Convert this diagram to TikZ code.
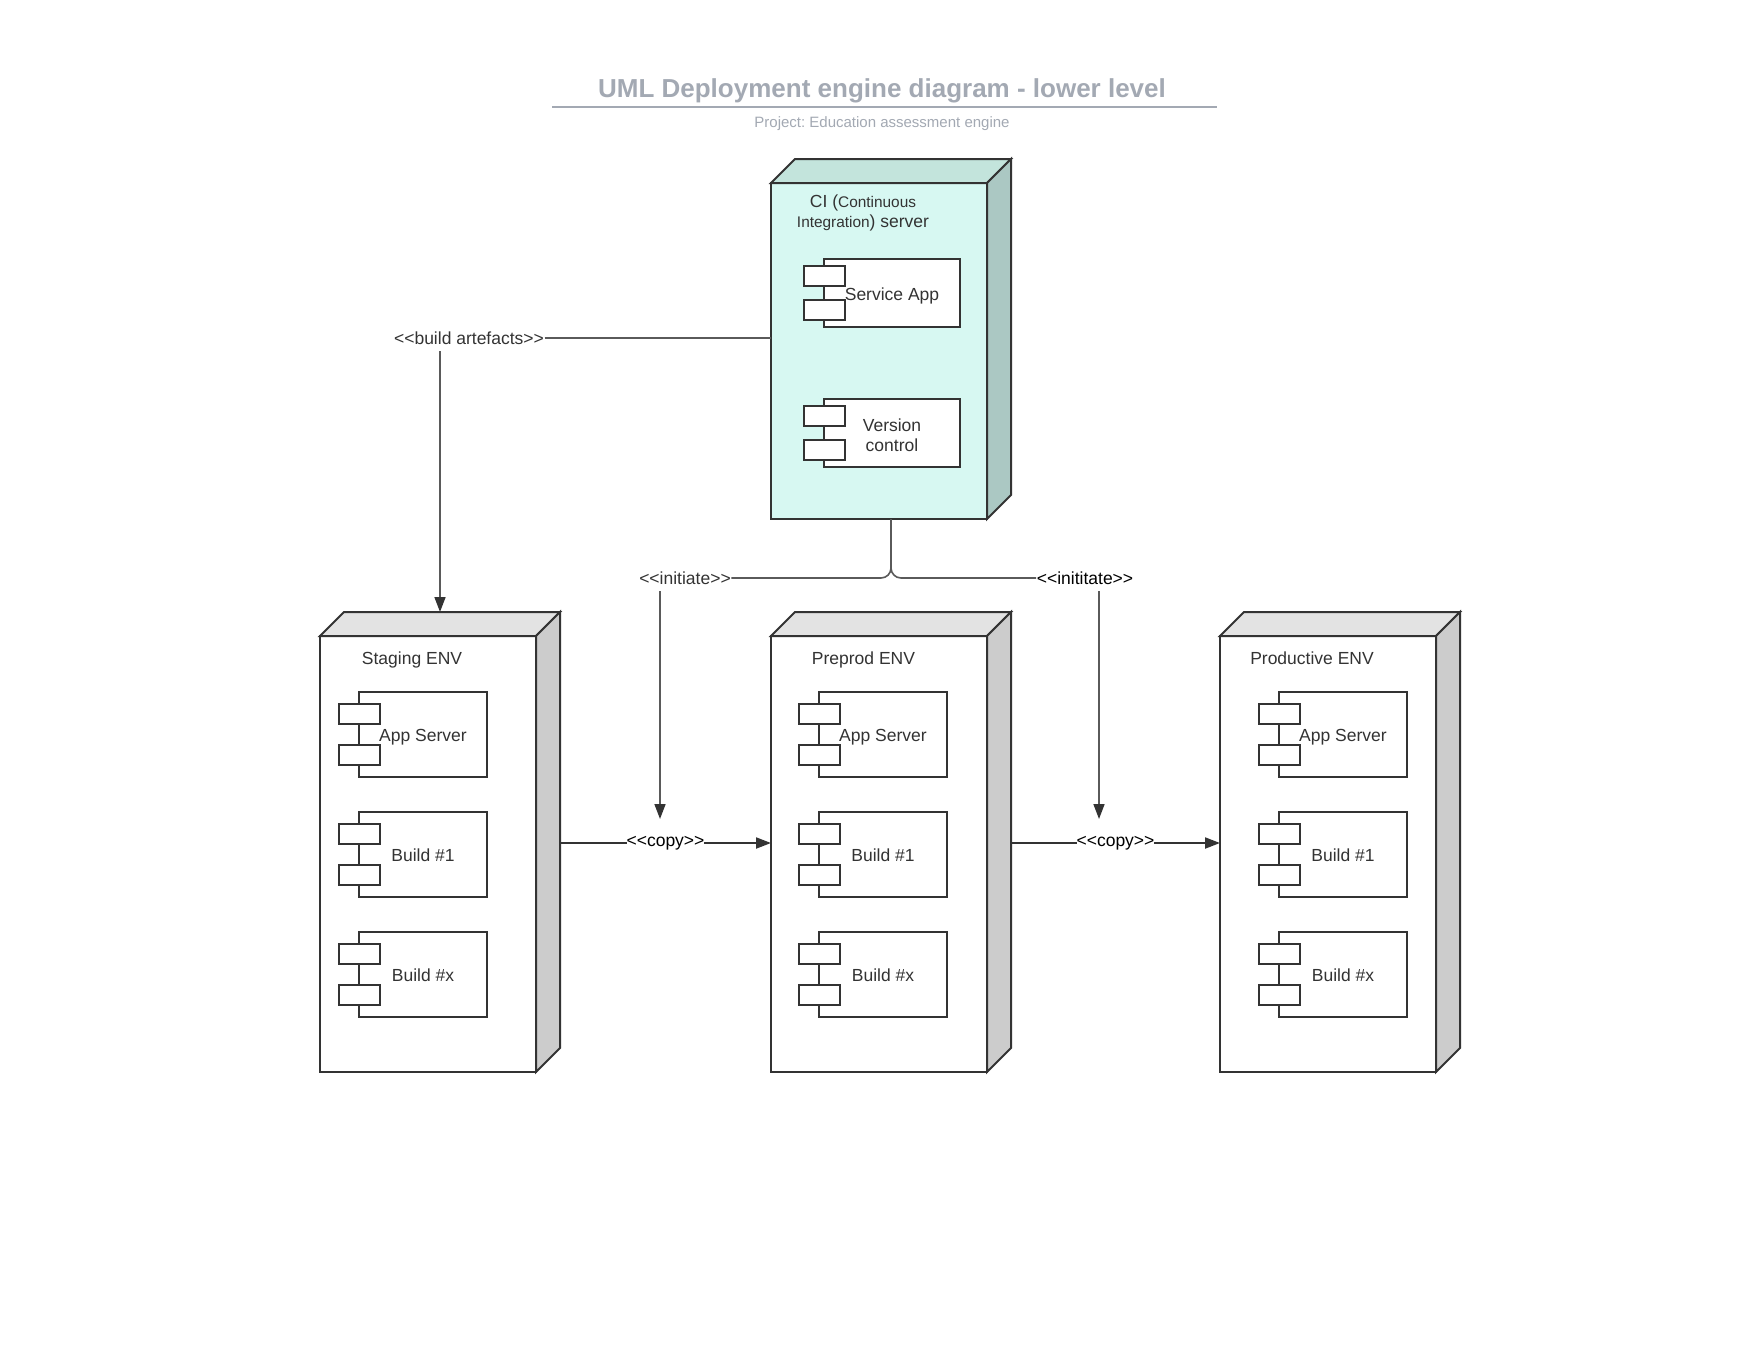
\documentclass[tikz,border=0pt]{standalone}
\usepackage{fontspec}
\setmainfont{Liberation Sans}
\usetikzlibrary{arrows.meta,calc}
\definecolor{c333}{HTML}{333333}
\definecolor{c555}{HTML}{5A5A5A}
\definecolor{titlegray}{HTML}{A3A9B3}
\definecolor{cifront}{HTML}{D7F8F2}
\definecolor{citop}{HTML}{C3E4DC}
\definecolor{ciside}{HTML}{ABC8C3}
\definecolor{envtop}{HTML}{E3E3E3}
\definecolor{envside}{HTML}{CCCCCC}
\newcommand\sopen{<\kern0pt<}
\newcommand\sclose{>\kern0pt>}
\newcommand\depbox[8]{%
  \node[boxfront, fill=#6, minimum width=#4pt, minimum height=#5pt, anchor=north west] (#1) at (#2,#3) {};
  \draw[boxline, fill=#7] (#1.north west) -- ++(24,-24) -- ([shift={(24,-24)}]#1.north east) -- (#1.north east) -- cycle;
  \draw[boxline, fill=#8] (#1.north east) -- ++(24,-24) -- ([shift={(24,-24)}]#1.south east) -- (#1.south east) -- cycle;
}
\newcommand\umlcomp[7]{%
  \node[compbody, minimum width=#4pt, minimum height=#5pt, anchor=north west] (#1) at (#2,#3) {};
  \node[comptab] (#1a) at ([xshift=0.5pt, yshift=0.245*#5pt]#1.west) {};
  \node[comptab] (#1b) at ([xshift=0.5pt, yshift=-0.245*#5pt]#1.west) {};
  \node[#7] (#1t) at (#1.center) {#6};
}
\tikzset{
  boxline/.style={draw=c333, line width=2pt},
  boxfront/.style={boxline, rectangle, inner sep=0pt, outer sep=0pt},
  compbody/.style={draw=c333, line width=2pt, fill=white, rectangle, inner sep=0pt, outer sep=0pt},
  comptab/.style={compbody, minimum width=41pt, minimum height=20pt},
  txtml/.style={font=\fontsize{17.5}{20}\selectfont, text=c333, inner sep=0pt, align=center, yshift=-2pt},
  txt/.style={font=\fontsize{17.5}{20}\selectfont, text=c333, inner sep=0pt, text height=12.8pt, text depth=3.8pt, yshift=-2.5pt},
  lbl/.style={font=\fontsize{17.5}{20}\selectfont, text=c333, inner xsep=0.5pt, inner ysep=2pt},
  cplbl/.style={lbl, fill=white, text=black, inner xsep=0pt},
  conn/.style={draw=c555, line width=1.6pt},
  copyline/.style={draw=c333, line width=2pt},
  arr/.style={-{Triangle[length=15pt,width=11pt,color=c333]}},
}
\begin{document}
\begin{tikzpicture}[x=1pt, y=-1pt]
\useasboundingbox (0,0) rectangle (1760,1360);
\fill[white] (0,0) rectangle (1760,1360);

% title
\node[font=\bfseries\fontsize{26}{30}\selectfont, text=titlegray, inner sep=0pt] (title) at (882,90.5) {UML Deployment engine diagram - lower level};
\coordinate (tlA) at (552,106.6);
\coordinate (tlB) at (1217,106.6);
\draw[draw=titlegray, line width=2pt] (tlA) -- (tlB);
\node[font=\fontsize{15}{18}\selectfont\frenchspacing, text=titlegray, inner sep=0pt] (sub) at (882,123.5) {Project: Education assessment engine};

% CI server
\depbox{CI}{771}{183}{216}{336}{cifront}{citop}{ciside}
\node[txtml] (cititle) at (863,211) {CI ({\fontsize{15.4}{20}\selectfont Continuous}\\{\fontsize{15.4}{20}\selectfont Integration}) server};
\umlcomp{ciA}{824}{259}{136}{68}{Service App}{txt}
\umlcomp{ciB}{824}{399}{136}{68}{Version\\control}{txtml}

% environments
\depbox{stg}{320}{636}{216}{436}{white}{envtop}{envside}
\depbox{pre}{771}{636}{216}{436}{white}{envtop}{envside}
\depbox{prod}{1220}{636}{216}{436}{white}{envtop}{envside}
\node[txt] (stgT) at (412,657) {Staging ENV};
\node[txt] (preT) at (863.5,657) {Preprod ENV};
\node[txt] (prodT) at (1312,657) {Productive ENV};

\umlcomp{stgA}{359}{692}{128}{85}{App Server}{txt}
\umlcomp{stgB}{359}{812}{128}{85}{Build \#1}{txt}
\umlcomp{stgC}{359}{932}{128}{85}{Build \#x}{txt}
\umlcomp{preA}{819}{692}{128}{85}{App Server}{txt}
\umlcomp{preB}{819}{812}{128}{85}{Build \#1}{txt}
\umlcomp{preC}{819}{932}{128}{85}{Build \#x}{txt}
\umlcomp{prodA}{1279}{692}{128}{85}{App Server}{txt}
\umlcomp{prodB}{1279}{812}{128}{85}{Build \#1}{txt}
\umlcomp{prodC}{1279}{932}{128}{85}{Build \#x}{txt}

% build artefacts
\node[lbl] (ba) at (469,338) {\sopen build artefacts\sclose};
\draw[conn] (ba.east) -- (ba.east -| CI.west);
\coordinate (stgIn) at (440,612);
\draw[conn, arr] ($(ba.center -| stgIn)+(0,13)$) -- (stgIn);

% initiate
\node[lbl] (ini1) at (685,578) {\sopen initiate\sclose};
\node[lbl, text=black] (ini2) at (1085,578) {\sopen inititate\sclose};
\coordinate (ciOut) at ($(CI.south)+(12,0)$);
\draw[conn, rounded corners=10pt] (ciOut) |- (ini1.east);
\draw[conn, rounded corners=10pt] (ciOut) |- (ini2.west);
\coordinate (preIn) at (660,819);
\coordinate (prodIn) at (1099,819);
\draw[conn, arr] ($(ini1.center -| preIn)+(0,13)$) -- (preIn);
\draw[conn, arr] ($(ini2.center -| prodIn)+(0,13)$) -- (prodIn);

% copy
\coordinate (cp1) at ($(stg.east)+(24,-11)$);
\draw[copyline, arr] (cp1) -- node[cplbl] (copy1) {\sopen copy\sclose} (cp1 -| pre.west);
\coordinate (cp2) at ($(pre.east)+(24,-11)$);
\draw[copyline, arr] (cp2) -- node[cplbl] (copy2) {\sopen copy\sclose} (cp2 -| prod.west);
\end{tikzpicture}
\end{document}
